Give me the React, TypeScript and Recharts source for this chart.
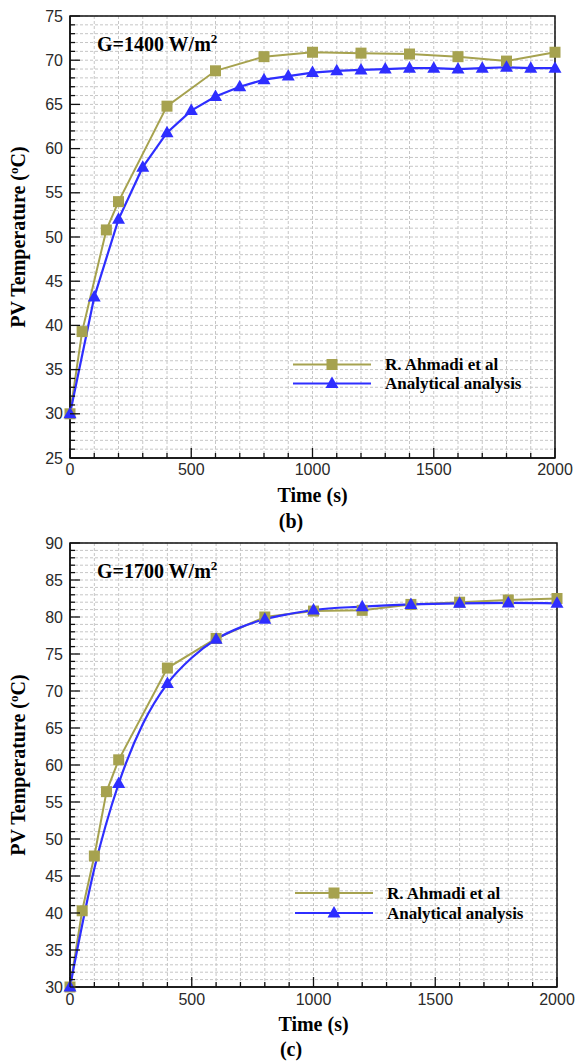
import React from 'react';
import { LineChart, Line, XAxis, YAxis, CartesianGrid, ReferenceArea, Legend } from 'recharts';

// ---------- data ----------
const SERIES_A = 'R. Ahmadi et al';
const SERIES_B = 'Analytical analysis';
const seriesOrder = [SERIES_A, SERIES_B];

// Chart (b) G = 1400 W/m2
const timeAhmadiB = [0, 50, 150, 200, 400, 600, 800, 1000, 1200, 1400, 1600, 1800, 2000];
const tempAhmadiB = [30, 39.3, 50.8, 54.0, 64.8, 68.8, 70.4, 70.9, 70.8, 70.7, 70.4, 69.9, 70.9];
const timeAnalyticB = [0, 100, 200, 300, 400, 500, 600, 700, 800, 900, 1000, 1100, 1200, 1300, 1400, 1500, 1600, 1700, 1800, 1900, 2000];
const tempAnalyticB = [30, 43.2, 52.0, 57.9, 61.8, 64.3, 65.9, 67.0, 67.8, 68.2, 68.6, 68.8, 68.9, 69.0, 69.1, 69.1, 69.0, 69.1, 69.2, 69.1, 69.1];

// Chart (c) G = 1700 W/m2
const timeAhmadiC = [0, 50, 100, 150, 200, 400, 600, 800, 1000, 1200, 1400, 1600, 1800, 2000];
const tempAhmadiC = [30, 40.3, 47.7, 56.4, 60.7, 73.1, 77.1, 80.0, 80.8, 80.9, 81.7, 82.0, 82.3, 82.5];
const timeAnalyticC = [0, 100, 200, 300, 400, 500, 600, 700, 800, 900, 1000, 1200, 1400, 1600, 1800, 2000];
const tempAnalyticC = [30, 46.0, 57.5, 65.6, 71.0, 74.5, 77.0, 78.6, 79.7, 80.4, 80.95, 81.4, 81.7, 81.85, 81.9, 81.85];
const markerTimesC = [0, 200, 400, 600, 800, 1000, 1200, 1400, 1600, 1800, 2000];

const titleB = 'G=1400 W/m';
const titleC = 'G=1700 W/m';

const xTicks = Array.from({ length: 21 }, (_, i) => i * 100);
const yTicksB = Array.from({ length: 51 }, (_, i) => 25 + i);
const yTicksC = Array.from({ length: 61 }, (_, i) => 30 + i);

const rows = (ts: number[], vs: number[]) => ts.map((t, i) => ({ t, v: vs[i] }));

// ---------- styles ----------
const OLIVE = '#a6a24f';
const BLUE = '#2e2eff';
const AXIS = '#111';
const TICK = '#2a2a2a';
const GRID = '#c6c6c6';
const SERIF = '"Liberation Serif", "Times New Roman", serif';
const SANS = '"Liberation Sans", Arial, sans-serif';

const makeYTick = (margin: number) => (props: any) => {
  const { x, y, payload } = props;
  const ax = x + margin;
  const major = payload.value % 5 === 0;
  return (
    <g>
      <line x1={ax} x2={ax + (major ? 10 : 5)} y1={y} y2={y} stroke={AXIS} strokeWidth={1.3} />
      {major && (
        <text x={x} y={y} dy="0.355em" textAnchor="end" fontFamily={SANS} fontSize={16} fill={TICK}>
          {payload.value}
        </text>
      )}
    </g>
  );
};

const makeXTick = (margin: number) => (props: any) => {
  const { x, y, payload } = props;
  const ay = y - margin;
  const major = payload.value % 500 === 0;
  return (
    <g>
      <line x1={x} x2={x} y1={ay} y2={ay - (major ? 10 : 5)} stroke={AXIS} strokeWidth={1.3} />
      {major && (
        <text x={x} y={y} dy="0.71em" textAnchor="middle" fontFamily={SANS} fontSize={16} fill={TICK}>
          {payload.value}
        </text>
      )}
    </g>
  );
};

const yLabel = (props: any) => {
  const vb = props.viewBox || { x: 0, y: 0, width: 70, height: 440 };
  const cx = vb.x + 25;
  const cy = vb.y + vb.height / 2;
  return (
    <text x={cx} y={cy} transform={`rotate(-90 ${cx} ${cy})`} textAnchor="middle" fontFamily={SERIF} fontWeight="bold" fontSize={20} fill="#000">
      PV Temperature (<tspan dy={-7} fontSize={13}>o</tspan>
      <tspan dy={7}>C)</tspan>
    </text>
  );
};

const xLabel = (props: any) => {
  const vb = props.viewBox || { x: 70, y: 458, width: 485, height: 50 };
  return (
    <text x={vb.x + vb.width / 2} y={vb.y + 44} textAnchor="middle" fontFamily={SERIF} fontWeight="bold" fontSize={20} fill="#000">
      Time (s)
    </text>
  );
};

const squareDot = (props: any) => {
  const { cx, cy, index } = props;
  if (cx == null || cy == null) return <g key={`s${index}`} />;
  return <rect key={`s${index}`} x={cx - 5.5} y={cy - 5.5} width={11} height={11} fill={OLIVE} />;
};

const makeTriangleDot = (markerTimes?: number[]) => (props: any) => {
  const { cx, cy, index, payload } = props;
  if (cx == null || cy == null) return <g key={`t${index}`} />;
  if (markerTimes && !markerTimes.includes(payload.t)) return <g key={`t${index}`} />;
  return (
    <polygon
      key={`t${index}`}
      points={`${cx},${cy - 7} ${cx - 6.5},${cy + 4.5} ${cx + 6.5},${cy + 4.5}`}
      fill={BLUE}
    />
  );
};

const makeLegend = (rowH: number) => (props: any) => {
  const payload = [...(props.payload || [])].sort(
    (a: any, b: any) => seriesOrder.indexOf(a.value) - seriesOrder.indexOf(b.value)
  );
  return (
    <div>
      {payload.map((entry: any, i: number) => {
        const isA = entry.value === SERIES_A;
        const color = isA ? OLIVE : BLUE;
        const m = rowH / 2;
        return (
          <div key={i} style={{ display: 'flex', alignItems: 'center', height: rowH }}>
            <svg width={95} height={rowH} style={{ display: 'block' }}>
              <line x1={3} x2={81} y1={m} y2={m} stroke={color} strokeWidth={2} />
              {isA ? (
                <rect x={42 - 5.5} y={m - 5.5} width={11} height={11} fill={color} />
              ) : (
                <polygon points={`42,${m - 7} 35.5,${m + 4.5} 48.5,${m + 4.5}`} fill={color} />
              )}
            </svg>
            <span style={{ fontFamily: SERIF, fontWeight: 'bold', fontSize: 17, lineHeight: 1, color: '#000', whiteSpace: 'nowrap' }}>
              {entry.value}
            </span>
          </div>
        );
      })}
    </div>
  );
};

type PanelProps = {
  top: number;
  marginTop: number;
  marginRight: number;
  xAxisHeight: number;
  xTickMargin: number;
  yDomain: [number, number];
  yTicks: number[];
  ahmadi: { t: number; v: number }[];
  analytic: { t: number; v: number }[];
  analyticType: 'linear' | 'monotone';
  markerTimes?: number[];
  legendLeft: number;
  legendTop: number;
  legendRowH: number;
};

const Panel = (p: PanelProps) => (
  <div style={{ position: 'absolute', left: 0, top: p.top }}>
    <LineChart
      width={577}
      height={510}
      margin={{ top: p.marginTop, right: p.marginRight, bottom: 0, left: 0 }}
    >
      <CartesianGrid stroke={GRID} strokeDasharray="3 2" strokeWidth={1} />
      <XAxis
        type="number"
        dataKey="t"
        domain={[0, 2000]}
        ticks={xTicks}
        interval={0}
        height={p.xAxisHeight}
        tickSize={0}
        tickMargin={p.xTickMargin}
        tickLine={false}
        axisLine={{ stroke: AXIS, strokeWidth: 1.5 }}
        tick={makeXTick(p.xTickMargin)}
        label={xLabel}
      />
      <YAxis
        type="number"
        domain={p.yDomain}
        ticks={p.yTicks}
        interval={0}
        width={70}
        tickSize={0}
        tickMargin={7}
        tickLine={false}
        axisLine={{ stroke: AXIS, strokeWidth: 1.5 }}
        tick={makeYTick(7)}
        label={yLabel}
      />
      <ReferenceArea
        x1={0}
        x2={2000}
        y1={p.yDomain[0]}
        y2={p.yDomain[1]}
        fill="none"
        fillOpacity={0}
        stroke={AXIS}
        strokeWidth={1.5}
      />
      <Legend
        layout="vertical"
        align="center"
        verticalAlign="middle"
        content={makeLegend(p.legendRowH)}
        wrapperStyle={{ left: p.legendLeft, top: p.legendTop, width: 260 }}
      />
      <Line
        data={p.ahmadi}
        dataKey="v"
        name={SERIES_A}
        type="linear"
        stroke={OLIVE}
        strokeWidth={2}
        dot={squareDot}
        activeDot={false}
        isAnimationActive={false}
      />
      <Line
        data={p.analytic}
        dataKey="v"
        name={SERIES_B}
        type={p.analyticType}
        stroke={BLUE}
        strokeWidth={2.2}
        dot={makeTriangleDot(p.markerTimes)}
        activeDot={false}
        isAnimationActive={false}
      />
    </LineChart>
  </div>
);

const Title = ({ x, y, text }: { x: number; y: number; text: string }) => (
  <text x={x} y={y} fontFamily={SERIF} fontWeight="bold" fontSize={20} fill="#000">
    {text}
    <tspan dy={-8} fontSize={13}>2</tspan>
  </text>
);

export default function App() {
  return (
    <div style={{ position: 'fixed', left: 0, top: 0, width: 577, height: 1063, background: '#fff', overflow: 'hidden' }}>
      <Panel
        top={0}
        marginTop={16}
        marginRight={22}
        xAxisHeight={52}
        xTickMargin={6}
        yDomain={[25, 75]}
        yTicks={yTicksB}
        ahmadi={rows(timeAhmadiB, tempAhmadiB)}
        analytic={rows(timeAnalyticB, tempAnalyticB)}
        analyticType="linear"
        legendLeft={290}
        legendTop={355}
        legendRowH={19}
      />
      <Panel
        top={527}
        marginTop={16}
        marginRight={20}
        xAxisHeight={50}
        xTickMargin={7}
        yDomain={[30, 90]}
        yTicks={yTicksC}
        ahmadi={rows(timeAhmadiC, tempAhmadiC)}
        analytic={rows(timeAnalyticC, tempAnalyticC)}
        analyticType="monotone"
        markerTimes={markerTimesC}
        legendLeft={292}
        legendTop={356}
        legendRowH={20}
      />
      <svg width={577} height={1063} style={{ position: 'absolute', left: 0, top: 0, pointerEvents: 'none' }}>
        <Title x={97} y={51} text={titleB} />
        <text x={291} y={528} textAnchor="middle" fontFamily={SERIF} fontWeight="bold" fontSize={20} fill="#000">(b)</text>
        <Title x={97} y={578} text={titleC} />
        <text x={291} y={1056} textAnchor="middle" fontFamily={SERIF} fontWeight="bold" fontSize={20} fill="#000">(c)</text>
      </svg>
    </div>
  );
}
